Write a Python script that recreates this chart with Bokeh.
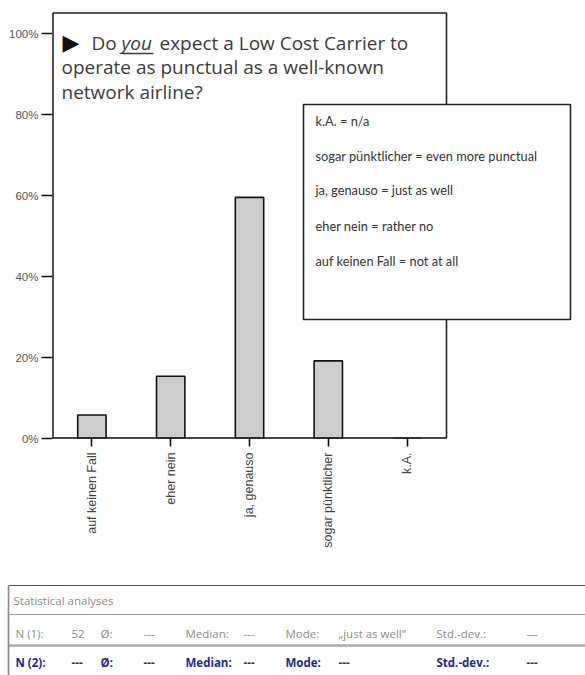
import math

from bokeh.plotting import figure
from bokeh.models import Range1d, FixedTicker, Label, BoxAnnotation, ColumnDataSource
from bokeh.layouts import column
from bokeh.embed import file_html
from bokeh.resources import INLINE
from bokeh.core.properties import value

# Survey answers (N = 52), share of respondents in percent
categories = ["auf keinen Fall", "eher nein", "ja, genauso", "sogar pünktlicher", "k.A."]
shares = [5.8, 15.4, 59.6, 19.2, 0.0]

y_ticks = [0, 20, 40, 60, 80, 100]
y_tick_labels = ["0%", "20%", "40%", "60%", "80%", "100%"]

legend_lines = [
    "k.A. = n/a",
    "sogar pünktlicher = even more punctual",
    "ja, genauso = just as well",
    "eher nein = rather no",
    "auf keinen Fall = not at all",
]

stats_header = "Statistical analyses"
stats_keys_1 = ["N (1):", "Ø:", "Median:", "Mode:", "Std.-dev.:"]
stats_vals_1 = ["52", "---", "---", "„just as well“", "---"]
stats_keys_2 = ["N (2):", "Ø:", "Median:", "Mode:", "Std.-dev.:"]
stats_vals_2 = ["---", "---", "---", "---", "---"]

# ---------------------------------------------------------------- bar chart
FRAME_LEFT, FRAME_BOTTOM = 52, 438          # frame corner on the canvas
BOX_LEFT, BOX_RIGHT, BOX_TOP = -0.5, 4.5, 105.2   # chart box in data units


def sx(cx):
    return cx - FRAME_LEFT


def sy(cy):
    return FRAME_BOTTOM - cy


idx = list(range(len(categories)))

# the frame runs to the right edge so the translation box can sit over the chart's border
p = figure(x_range=Range1d(-0.5, 6.264), y_range=Range1d(0, 105.8),
           width=585, height=580, output_backend="svg", toolbar_location=None,
           min_border_left=52, min_border_right=0, min_border_top=10,
           min_border_bottom=142)
p.frame_align = False
p.background_fill_color = "white"
p.border_fill_color = "white"
p.outline_line_color = None
p.xgrid.visible = False
p.ygrid.visible = False

src = ColumnDataSource(dict(x=idx, share=shares))
p.vbar(x="x", top="share", width=0.36, source=src,
       fill_color="#cccccc", line_color="#111111", line_width=1.6)

# chart border
p.quad(left=[BOX_LEFT], right=[BOX_RIGHT], bottom=[0], top=[BOX_TOP],
       fill_color=None, line_color="#222222", line_width=1.6)
p.segment(x0=[BOX_LEFT], y0=[0], x1=[BOX_RIGHT], y1=[0], line_color="#111111", line_width=2.4)
p.segment(x0=[BOX_LEFT], y0=[0], x1=[BOX_LEFT], y1=[BOX_TOP], line_color="#111111", line_width=2.2)

tick_font = "Liberation Sans"
p.yaxis.ticker = FixedTicker(ticks=y_ticks)
p.yaxis.major_label_overrides = dict(zip(y_ticks, y_tick_labels))
p.yaxis.axis_line_color = None
p.yaxis.major_tick_out = 11
p.yaxis.major_tick_in = 0
p.yaxis.major_tick_line_width = 1.6
p.yaxis.major_tick_line_color = "#111111"
p.yaxis.minor_tick_line_color = None
p.yaxis.major_label_standoff = 3
p.yaxis.major_label_text_font = tick_font
p.yaxis.major_label_text_font_size = "11.5px"
p.yaxis.major_label_text_color = "#555555"

p.xaxis.ticker = FixedTicker(ticks=idx)
p.xaxis.major_label_overrides = dict(zip(idx, categories))
p.xaxis.axis_line_color = None
p.xaxis.major_tick_out = 8
p.xaxis.major_tick_in = 0
p.xaxis.major_tick_line_width = 1.6
p.xaxis.major_tick_line_color = "#111111"
p.xaxis.minor_tick_line_color = None
p.xaxis.major_label_orientation = math.pi / 2
p.xaxis.major_label_standoff = 6
p.xaxis.major_label_text_font = tick_font
p.xaxis.major_label_text_font_size = "12.5px"
p.xaxis.major_label_text_color = "#444444"

# question text
q_font = "Open Sans"
q_size = "19px"
q_color = "#3c3c3c"


def q_label(text, cx, cy, **kw):
    p.add_layout(Label(x=sx(cx), y=sy(cy), x_units="screen", y_units="screen", text=text,
                       text_font=q_font, text_font_size=q_size, text_color=q_color,
                       text_baseline="alphabetic", **kw))


p.add_layout(Label(x=sx(62), y=sy(41.5), x_units="screen", y_units="screen", text="▶",
                   text_font="DejaVu Sans", text_font_size="22px", text_color="#111111",
                   text_baseline="middle"))
q_label("Do", 91, 42)
q_label("you", 121, 42, text_font_style="italic")
p.add_layout(BoxAnnotation(left=sx(122), right=sx(153), top=sy(52.3), bottom=sy(53.8),
                           left_units="screen", right_units="screen",
                           top_units="screen", bottom_units="screen",
                           fill_color=q_color, fill_alpha=1, line_color=None))
q_label("expect a Low Cost Carrier to", 159, 42)
q_label("operate as punctual as a well-known", 61, 66.5)
q_label("network airline?", 61, 91)

# translation box
p.add_layout(BoxAnnotation(left=sx(303), right=sx(570), top=sy(104), bottom=sy(319),
                           left_units="screen", right_units="screen",
                           top_units="screen", bottom_units="screen",
                           fill_color="white", fill_alpha=1,
                           line_color="#222222", line_alpha=1, line_width=1.6,
                           level="overlay"))
for text, cy in zip(legend_lines, [120, 155, 189, 225, 260]):
    p.add_layout(Label(x=sx(315), y=sy(cy), x_units="screen", y_units="screen",
                       text=text, text_font="Lato", text_font_size="12.8px",
                       text_color="#333333", text_baseline="middle", level="overlay"))

# ---------------------------------------------------------------- stats table
t = figure(width=585, height=95, x_range=Range1d(0, 585), y_range=Range1d(95, 0),
           output_backend="svg", toolbar_location=None, min_border=0,
           x_axis_location=None, y_axis_location=None)
t.frame_align = False
t.xgrid.visible = False
t.ygrid.visible = False
t.outline_line_color = None
t.background_fill_color = "white"
t.border_fill_color = "white"

t.segment(x0=[8], y0=[5], x1=[585], y1=[5], line_color="#555555", line_width=1.2)
t.segment(x0=[8], y0=[34], x1=[585], y1=[34], line_color="#999999", line_width=1.2)
t.segment(x0=[8], y0=[65], x1=[585], y1=[65], line_color="#aaaaaa", line_width=2.4)
t.segment(x0=[8], y0=[5], x1=[8], y1=[95], line_color="#888888", line_width=1.6)

t.text(x=[13], y=[20], text=[stats_header], text_font=value("Open Sans"),
       text_font_size="11.5px", text_color="#8a8a8a", text_baseline="middle")

key_x = [15, 100, 185, 285, 436]
val_x = [71, 143, 243, 338, 526]
t.text(x=key_x + val_x, y=[53] * 10, text=stats_keys_1 + stats_vals_1,
       text_font=value("Open Sans"), text_font_size="11.5px", text_color="#8a8a8a",
       text_baseline="middle")
t.text(x=key_x + val_x, y=[82] * 10, text=stats_keys_2 + stats_vals_2,
       text_font=value("Open Sans"), text_font_size="11.5px", text_color="#1c2b8c",
       text_font_style="bold", text_baseline="middle")

layout = column(p, t, spacing=0)
open("out.html", "w").write(file_html(layout, INLINE))
